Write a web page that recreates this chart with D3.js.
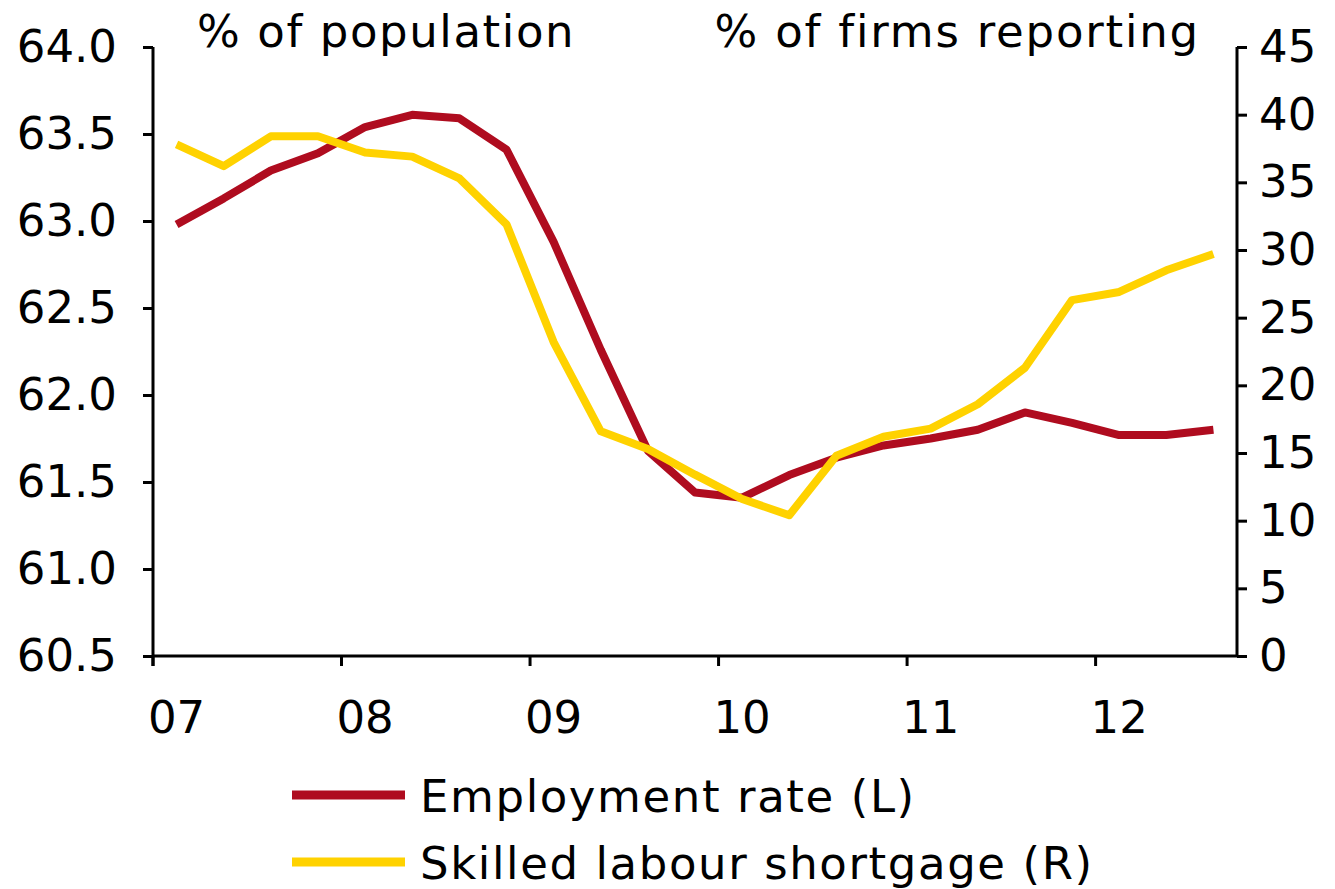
<!DOCTYPE html>
<html><head><meta charset="utf-8">
<script src="https://cdn.jsdelivr.net/npm/d3@7"></script>
<style>
html,body{margin:0;padding:0;background:#fff;}
svg{display:block;font-family:"DejaVu Sans",Verdana,sans-serif;}
</style></head>
<body>
<svg id="c" width="1335" height="889"></svg>
<script>
const quarters = ["2007Q1","2007Q2","2007Q3","2007Q4","2008Q1","2008Q2","2008Q3","2008Q4",
  "2009Q1","2009Q2","2009Q3","2009Q4","2010Q1","2010Q2","2010Q3","2010Q4",
  "2011Q1","2011Q2","2011Q3","2011Q4","2012Q1","2012Q2","2012Q3"];
const employmentRate = [62.98,63.13,63.29,63.39,63.54,63.61,63.59,63.41,
  62.88,62.26,61.68,61.44,61.41,61.54,61.64,61.71,
  61.75,61.80,61.90,61.84,61.77,61.77,61.80];
const skilledShortage = [37.8,36.2,38.4,38.4,37.2,36.9,35.3,31.9,
  23.2,16.6,15.3,13.4,11.6,10.4,14.8,16.2,
  16.8,18.6,21.3,26.3,26.9,28.5,29.7];
const yearLabels = ["07","08","09","10","11","12"];
const leftTicks = [60.5,61.0,61.5,62.0,62.5,63.0,63.5,64.0];
const rightTicks = [0,5,10,15,20,25,30,35,40,45];
const seriesNames = ["Employment rate (L)","Skilled labour shortgage (R)"];
const seriesColors = ["#AF0C1F","#FFD200"];

const svg = d3.select("#c");
const L = 153, R = 1237, T = 47, B = 656;
const FS = 45;
const LS = "1.6px";

const x = d3.scaleBand().domain(quarters).range([L, R]).padding(0);
const yL = d3.scaleLinear().domain([60.5, 64]).range([B, T]);
const yR = d3.scaleLinear().domain([0, 45]).range([B, T]);

// left axis
const axL = d3.axisLeft(yL).tickValues(leftTicks).tickFormat(d3.format(".1f")).tickSize(10).tickPadding(26);
const gL = svg.append("g").attr("transform", `translate(${L},0)`).call(axL);
// right axis
const axR = d3.axisRight(yR).tickValues(rightTicks).tickFormat(d3.format("d")).tickSize(10).tickPadding(12);
const gR = svg.append("g").attr("transform", `translate(${R},0)`).call(axR);
// bottom axis: year ticks at Q1 band start
const yearQ = yearLabels.map(y => "20" + y + "Q1");
const gB = svg.append("g").attr("transform", `translate(0,${B})`);
gB.append("line").attr("x1", L).attr("x2", R).attr("y1", 0).attr("y2", 0).attr("stroke", "#000").attr("stroke-width", 3);
gB.selectAll("line.tk").data(yearQ).enter().append("line").attr("class","tk")
  .attr("x1", d => x(d)).attr("x2", d => x(d)).attr("y1", 0).attr("y2", 10)
  .attr("stroke", "#000").attr("stroke-width", 3);
gB.selectAll("text").data(yearLabels).enter().append("text")
  .attr("x", (d,i) => x(yearQ[i]) + x.bandwidth()/2)
  .attr("y", 77).attr("text-anchor", "middle").attr("font-size", FS).attr("fill", "#000")
  .text(d => d);

[gL, gR].forEach(g => {
  g.selectAll(".tick line").attr("stroke", "#000").attr("stroke-width", 3);
  g.selectAll(".tick text").attr("font-size", FS).attr("fill", "#000").attr("font-family", '"DejaVu Sans",Verdana,sans-serif');
});
gL.select("path.domain").remove();
gR.select("path.domain").remove();
svg.append("line").attr("x1", L).attr("x2", L).attr("y1", T).attr("y2", B + 10).attr("stroke", "#000").attr("stroke-width", 3);
svg.append("line").attr("x1", R).attr("x2", R).attr("y1", T).attr("y2", B).attr("stroke", "#000").attr("stroke-width", 3);

// units
svg.append("text").attr("x", 197).attr("y", 47).attr("font-size", FS).attr("letter-spacing", LS).attr("fill", "#000").text("% of population");
svg.append("text").attr("x", 1200).attr("y", 47).attr("text-anchor", "end").attr("font-size", FS).attr("letter-spacing", "1.8px").attr("fill", "#000").text("% of firms reporting");

// lines
const cx = d => x(d) + x.bandwidth()/2;
const lineL = d3.line().x((d,i) => cx(quarters[i])).y(d => yL(d));
const lineR = d3.line().x((d,i) => cx(quarters[i])).y(d => yR(d));
svg.append("path").datum(employmentRate).attr("d", lineL).attr("fill", "none")
  .attr("stroke", seriesColors[0]).attr("stroke-width", 8).attr("stroke-linejoin", "round");
svg.append("path").datum(skilledShortage).attr("d", lineR).attr("fill", "none")
  .attr("stroke", seriesColors[1]).attr("stroke-width", 8).attr("stroke-linejoin", "round");

// legend
const lg = svg.append("g");
seriesNames.forEach((n, i) => {
  const yy = 795 + i * 67;
  lg.append("line").attr("x1", 292).attr("x2", 405).attr("y1", yy).attr("y2", yy)
    .attr("stroke", seriesColors[i]).attr("stroke-width", 9);
  lg.append("text").attr("x", 420).attr("y", yy + 17).attr("font-size", FS).attr("letter-spacing", LS).attr("fill", "#000").text(n);
});
</script>
</body></html>
